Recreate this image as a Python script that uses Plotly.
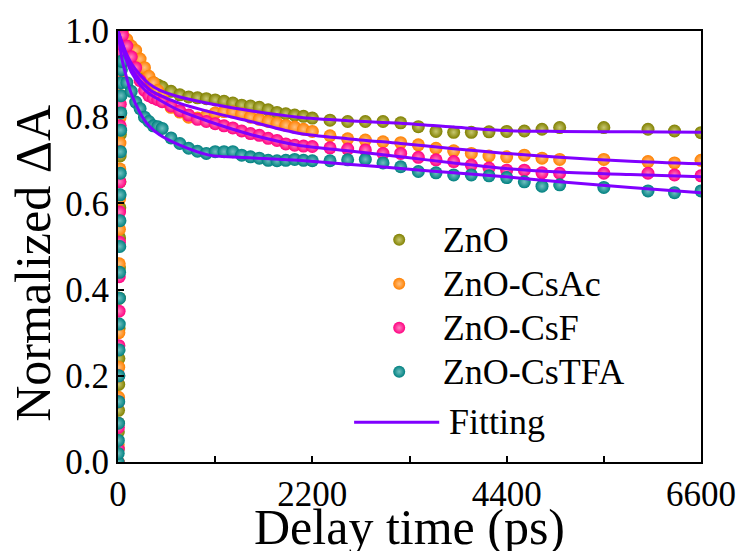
import plotly.graph_objects as go

# ---------------- data ----------------
RISE_T = [0, 2, 4, 6, 8, 10, 12, 14, 16, 18, 20, 22, 24, 26, 28, 30, 32, 34, 36, 38, 40]
DECAY_T = [50, 100, 150, 200, 250, 300, 350, 400, 450, 500,
           600, 700, 800, 900, 1000, 1100, 1200, 1300, 1400, 1500, 1600, 1700, 1800, 1900, 2000, 2100, 2200,
           2400, 2600, 2800, 3000, 3200, 3400, 3600, 3800, 4000, 4200, 4400, 4600, 4800, 5000,
           5500, 6000, 6300, 6600]

ZNO_RISE = [0.0, 0.03, 0.07, 0.12, 0.18, 0.24, 0.31, 0.38, 0.45, 0.52, 0.59, 0.65, 0.71, 0.76, 0.81, 0.85, 0.89, 0.92, 0.95, 0.97, 0.98]
ZNO = [0.99, 0.96, 0.935, 0.915, 0.90, 0.89, 0.885, 0.88, 0.875, 0.87,
       0.86, 0.852, 0.847, 0.845, 0.843, 0.84, 0.837, 0.833, 0.828, 0.826, 0.823, 0.817, 0.811, 0.808, 0.805, 0.802, 0.798,
       0.793, 0.79, 0.79, 0.79, 0.787, 0.778, 0.767, 0.765, 0.765, 0.766, 0.767, 0.768, 0.772, 0.776,
       0.776, 0.772, 0.768, 0.764]

CSAC_RISE = [0.0, 0.04, 0.09, 0.15, 0.22, 0.3, 0.38, 0.46, 0.54, 0.61, 0.68, 0.74, 0.8, 0.85, 0.89, 0.93, 0.96, 0.98, 0.99, 1.0, 1.0]
CSAC = [1.0, 0.98, 0.965, 0.955, 0.935, 0.915, 0.895, 0.88, 0.862, 0.848,
        0.823, 0.812, 0.80, 0.798, 0.803, 0.81, 0.813, 0.812, 0.808, 0.80, 0.795, 0.79, 0.786, 0.781, 0.777, 0.772, 0.767,
        0.757, 0.75, 0.747, 0.743, 0.741, 0.736, 0.728, 0.722, 0.716, 0.71, 0.708, 0.712, 0.705, 0.702,
        0.702, 0.697, 0.694, 0.70]

CSF_RISE = [0.0, 0.03, 0.08, 0.14, 0.2, 0.27, 0.35, 0.43, 0.51, 0.58, 0.65, 0.72, 0.78, 0.83, 0.88, 0.92, 0.95, 0.97, 0.99, 1.0, 1.0]
CSF = [0.99, 0.965, 0.94, 0.915, 0.885, 0.862, 0.85, 0.845, 0.841, 0.836,
       0.826, 0.815, 0.805, 0.795, 0.79, 0.785, 0.78, 0.775, 0.768, 0.762, 0.758, 0.751, 0.746, 0.738, 0.735, 0.733, 0.732,
       0.729, 0.726, 0.724, 0.716, 0.716, 0.707, 0.701, 0.697, 0.689, 0.682, 0.677, 0.677, 0.671, 0.67,
       0.67, 0.67, 0.666, 0.664]

CSTFA_RISE = [0.0, 0.02, 0.05, 0.09, 0.14, 0.2, 0.26, 0.32, 0.38, 0.44, 0.5, 0.56, 0.62, 0.67, 0.72, 0.77, 0.81, 0.85, 0.88, 0.91, 0.93]
CSTFA = [0.93, 0.88, 0.86, 0.835, 0.82, 0.80, 0.79, 0.78, 0.778, 0.774,
         0.752, 0.739, 0.728, 0.721, 0.716, 0.72, 0.72, 0.72, 0.712, 0.708, 0.705, 0.70, 0.699, 0.70, 0.702, 0.70, 0.699,
         0.699, 0.701, 0.702, 0.694, 0.685, 0.674, 0.671, 0.666, 0.666, 0.664, 0.66, 0.65, 0.64, 0.643,
         0.637, 0.629, 0.625, 0.629]

FIT_T = [0, 25, 50, 100, 150, 250, 350, 470, 700, 1030, 1500, 2040, 2600, 3200, 3800, 4390, 5000, 5800, 6600]
FIT_ZNO = [1.0, 0.985, 0.97, 0.945, 0.925, 0.898, 0.878, 0.863, 0.847, 0.832, 0.815, 0.80, 0.792, 0.786, 0.777, 0.769, 0.767, 0.766, 0.765]
FIT_CSAC = [1.0, 0.985, 0.97, 0.94, 0.915, 0.885, 0.865, 0.851, 0.832, 0.813, 0.79, 0.763, 0.75, 0.739, 0.727, 0.716, 0.707, 0.698, 0.692]
FIT_CSF = [1.0, 0.98, 0.96, 0.93, 0.905, 0.875, 0.855, 0.84, 0.815, 0.79, 0.76, 0.735, 0.722, 0.708, 0.694, 0.681, 0.673, 0.667, 0.662]
FIT_CSTFA = [1.0, 0.96, 0.93, 0.89, 0.855, 0.81, 0.78, 0.759, 0.735, 0.712, 0.706, 0.70, 0.691, 0.681, 0.671, 0.662, 0.65, 0.637, 0.625]

LABELS = ["ZnO", "ZnO-CsAc", "ZnO-CsF", "ZnO-CsTFA"]
FIT_LABEL = "Fitting"
COLORS = ["#808000", "#ff8000", "#ff0080", "#008080"]
HIGHLIGHTS = ["#c8c870", "#ffc080", "#ff80c0", "#70c0c0"]
FIT_COLOR = "#8000ff"
X_TICKS = [0, 2200, 4400, 6600]

FONT = "Liberation Serif, Times New Roman, serif"
PAD = "\u00a0\u00a0\u00a0"
LEG_TEXT_PX = 36


def legend_name(s):
    return PAD + "<span style='font-size:%dpx'>%s</span>" % (LEG_TEXT_PX, s)


# ---------------- figure ----------------
fig = go.Figure()

series = [(ZNO_RISE, ZNO), (CSAC_RISE, CSAC), (CSF_RISE, CSF), (CSTFA_RISE, CSTFA)]
for (rise, dec), name, col, hl in zip(series, LABELS, COLORS, HIGHLIGHTS):
    fig.add_trace(go.Scatter(
        x=RISE_T + DECAY_T, y=rise + dec, mode="markers", name=legend_name(name),
        marker=dict(size=13, color=col, line=dict(width=0),
                    gradient=dict(type="radial", color=hl)),
    ))

for i, fit in enumerate([FIT_ZNO, FIT_CSAC, FIT_CSF, FIT_CSTFA]):
    fig.add_trace(go.Scatter(
        x=FIT_T, y=fit, mode="lines", name=FIT_LABEL, showlegend=False,
        line=dict(color=FIT_COLOR, width=3, shape="spline", smoothing=0.8),
    ))

axis_common = dict(
    showline=True, linecolor="black", linewidth=2, mirror=True,
    ticks="inside", ticklen=6, tickwidth=1.5, tickcolor="black",
    showgrid=False, zeroline=False,
    tickfont=dict(family=FONT, size=35, color="black"),
)

fig.update_xaxes(
    range=[0, 6600], tickvals=X_TICKS, ticktext=[str(v) for v in X_TICKS],
    minor=dict(dtick=1100, tick0=0, ticks="inside", ticklen=6, tickwidth=1.5, tickcolor="black"),
    **axis_common,
)
fig.update_yaxes(range=[0, 1.0], dtick=0.2, tickformat=".1f", **axis_common)

# legend key for the fitting curves (line sample + label), below the native legend
FIT_KEY_Y = 0.0925
fig.add_shape(type="line", xref="paper", yref="paper", x0=0.405, x1=0.551,
              y0=FIT_KEY_Y, y1=FIT_KEY_Y, line=dict(color=FIT_COLOR, width=3))

fig.update_layout(
    width=748, height=551,
    margin=dict(l=118, r=40, t=31, b=89),
    paper_bgcolor="white", plot_bgcolor="white",
    showlegend=True,
    legend=dict(
        x=0.448, y=0.578, xanchor="left", yanchor="top",
        bgcolor="rgba(0,0,0,0)", borderwidth=0,
        font=dict(family=FONT, size=31.5, color="black"),
        itemsizing="constant", tracegroupgap=0,
    ),
    annotations=[
        dict(text=FIT_LABEL, xref="paper", yref="paper", x=0.564, y=FIT_KEY_Y,
             xanchor="left", yanchor="middle", showarrow=False,
             font=dict(family=FONT, size=LEG_TEXT_PX, color="black")),
        dict(text="Delay time (ps)", xref="paper", yref="paper", x=0.5, y=-0.15,
             xanchor="center", yanchor="middle", showarrow=False,
             font=dict(family=FONT, size=50, color="black")),
        dict(text="Normalized ΔA", xref="paper", yref="paper", x=-0.146, y=0.462,
             xanchor="center", yanchor="middle", textangle=-90, showarrow=False,
             font=dict(family=FONT, size=50, color="black")),
    ],
)

fig.write_html("out.html")
